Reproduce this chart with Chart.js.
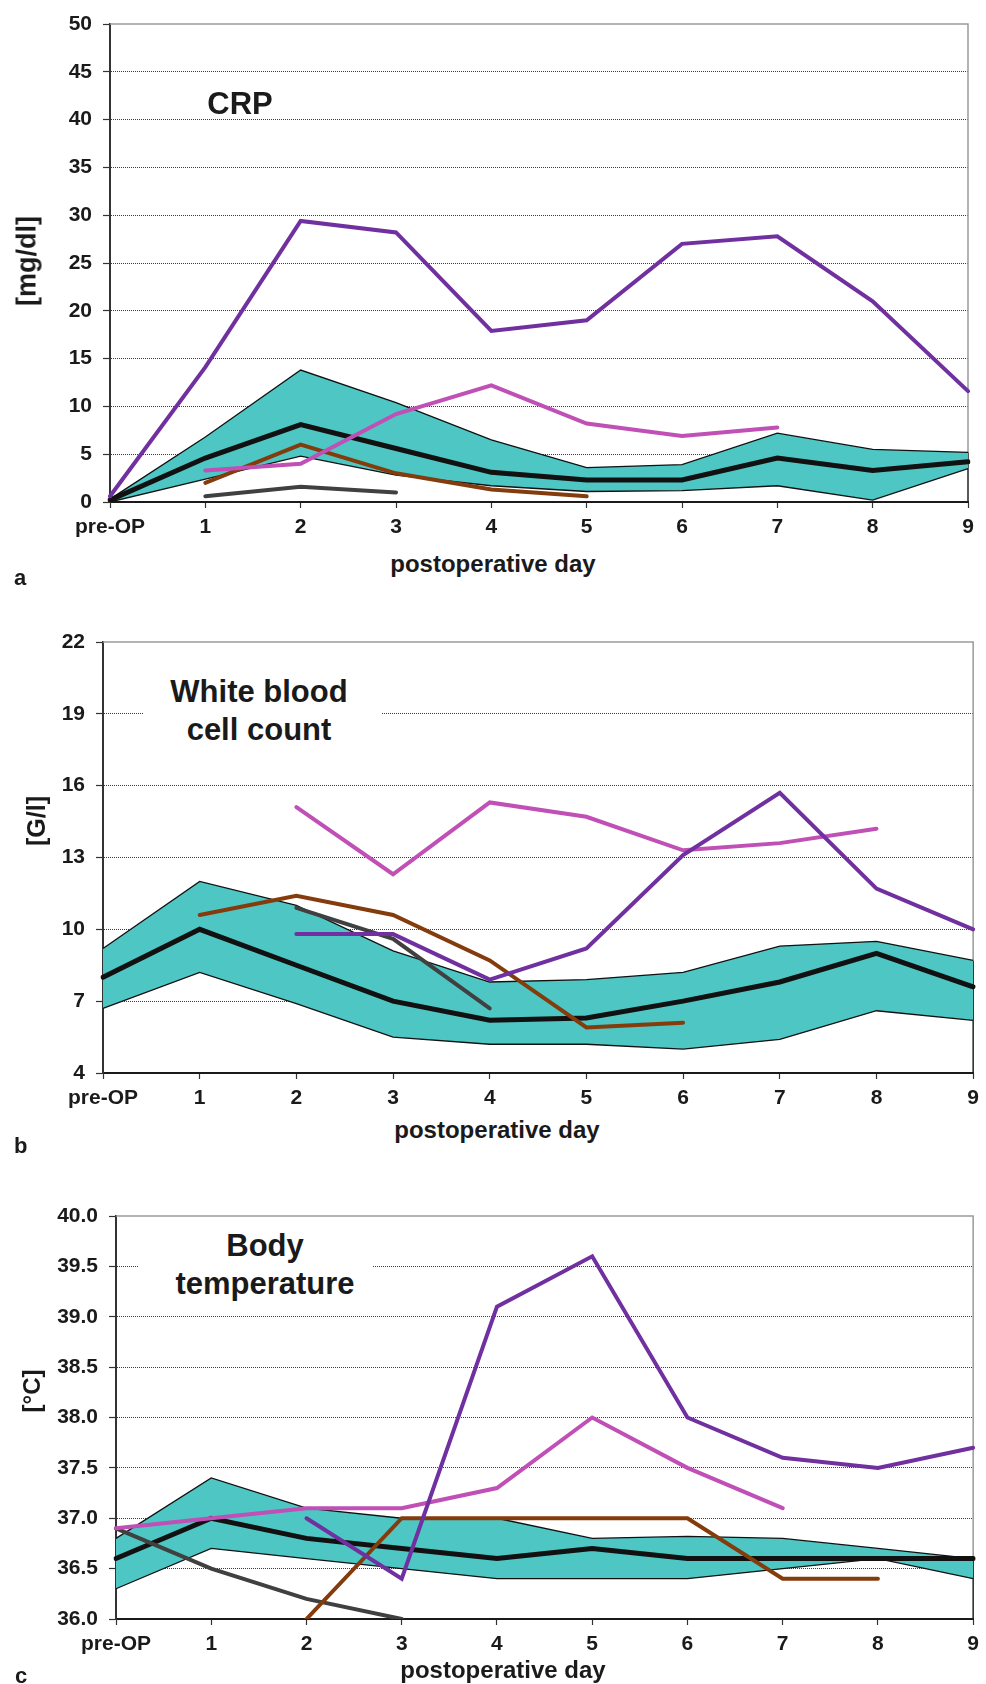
<!DOCTYPE html>
<html>
<head>
<meta charset="utf-8">
<script src="https://cdn.jsdelivr.net/npm/chart.js@4.4.1/dist/chart.umd.min.js"></script>
<style>
    body { margin: 0; background: #fff; }
    #page {
        position: relative; width: 986px; height: 1684px; overflow: hidden;
        font-family: "Liberation Sans", Arial, Helvetica, sans-serif;
        font-weight: bold; color: #1a1a1a;
    }
    canvas { position: absolute; left: 0; }
    .ytitle {
        position: absolute; white-space: nowrap;
        transform: translate(-50%, -50%) rotate(-90deg);
    }
    .xtitle {
        position: absolute; font-size: 24px; line-height: 24px; white-space: nowrap;
        transform: translateX(-50%);
    }
    .letter { position: absolute; font-size: 22px; line-height: 22px; }
    .inner {
        position: absolute; font-size: 31px; text-align: center;
        background: #fff; box-sizing: border-box; white-space: nowrap;
    }
</style>
</head>
<body>
<div id="page">
    <canvas id="crpChart" width="986" height="540" style="top:0px"></canvas>
    <canvas id="wbcChart" width="986" height="510" style="top:600px"></canvas>
    <canvas id="tempChart" width="986" height="514" style="top:1170px"></canvas>

    <div class="inner" style="left:140px; top:85px; width:200px; line-height:38px; background:none;">CRP</div>
    <div class="inner" style="left:143px; top:673px; width:239px; line-height:37.5px; padding-right:7px;">White blood<br>cell count</div>
    <div class="inner" style="left:138px; top:1227px; width:235px; line-height:38.3px; padding-left:19px;">Body<br>temperature</div>

    <div class="ytitle" style="left:27px; top:261px; font-size:27px; line-height:27px;">[mg/dl]</div>
    <div class="ytitle" style="left:36px; top:821px; font-size:25px; line-height:25px;">[G/l]</div>
    <div class="ytitle" style="left:32px; top:1391px; font-size:24px; line-height:24px;">[°C]</div>

    <div class="xtitle" style="left:493px; top:552px;">postoperative day</div>
    <div class="xtitle" style="left:497px; top:1118px;">postoperative day</div>
    <div class="xtitle" style="left:503px; top:1658px;">postoperative day</div>

    <div class="letter" style="left:14px; top:567px;">a</div>
    <div class="letter" style="left:14px; top:1135px;">b</div>
    <div class="letter" style="left:15px; top:1665px;">c</div>
</div>

<script>
/* ===============================
   DATA
   =============================== */
const days = ["pre-OP", "1", "2", "3", "4", "5", "6", "7", "8", "9"];

// CRP [mg/dl]
const crpTicks   = [0, 5, 10, 15, 20, 25, 30, 35, 40, 45, 50];
const crpLower   = [0, 2.4, 4.8, 2.8, 1.7, 1.1, 1.2, 1.7, 0.2, 3.5];
const crpUpper   = [0.3, 6.8, 13.8, 10.4, 6.5, 3.6, 3.9, 7.2, 5.5, 5.2];
const crpMedian  = [0.2, 4.6, 8.1, 5.6, 3.1, 2.3, 2.3, 4.6, 3.3, 4.2];
const crpPurple  = [0.6, 14.1, 29.4, 28.2, 17.9, 19.0, 27.0, 27.8, 21.0, 11.6];
const crpMagenta = [null, 3.3, 4.0, 9.2, 12.2, 8.2, 6.9, 7.8, null, null];
const crpBrown   = [null, 2.0, 6.0, 3.0, 1.3, 0.6, null, null, null, null];
const crpGray    = [null, 0.6, 1.6, 1.0, null, null, null, null, null, null];

// White blood cell count [G/l]
const wbcTicks   = [4, 7, 10, 13, 16, 19, 22];
const wbcLower   = [6.7, 8.2, 6.9, 5.5, 5.2, 5.2, 5.0, 5.4, 6.6, 6.2];
const wbcUpper   = [9.2, 12.0, 11.0, 9.1, 7.8, 7.9, 8.2, 9.3, 9.5, 8.7];
const wbcMedian  = [8.0, 10.0, 8.5, 7.0, 6.2, 6.3, 7.0, 7.8, 9.0, 7.6];
const wbcPurple  = [null, null, 9.8, 9.8, 7.9, 9.2, 13.1, 15.7, 11.7, 10.0];
const wbcMagenta = [null, null, 15.1, 12.3, 15.3, 14.7, 13.3, 13.6, 14.2, null];
const wbcBrown   = [null, 10.6, 11.4, 10.6, 8.7, 5.9, 6.1, null, null, null];
const wbcGray    = [null, null, 10.9, 9.6, 6.7, null, null, null, null, null];

// Body temperature [°C]
const tempTicks   = [36.0, 36.5, 37.0, 37.5, 38.0, 38.5, 39.0, 39.5, 40.0];
const tempLower   = [36.3, 36.7, 36.6, 36.5, 36.4, 36.4, 36.4, 36.5, 36.6, 36.4];
const tempUpper   = [36.8, 37.4, 37.1, 37.0, 37.0, 36.8, 36.82, 36.8, 36.7, 36.6];
const tempMedian  = [36.6, 37.0, 36.8, 36.7, 36.6, 36.7, 36.6, 36.6, 36.6, 36.6];
const tempPurple  = [null, null, 37.0, 36.4, 39.1, 39.6, 38.0, 37.6, 37.5, 37.7];
const tempMagenta = [36.9, 37.0, 37.1, 37.1, 37.3, 38.0, 37.5, 37.1, null, null];
const tempBrown   = [null, null, 36.0, 37.0, 37.0, 37.0, 37.0, 36.4, 36.4, null];
const tempGray    = [36.9, 36.5, 36.2, 36.0, null, null, null, null, null, null];

/* ===============================
   STYLE
   =============================== */
const FONT = '"Liberation Sans", Arial, Helvetica, sans-serif';
const TEAL = "#4dc6c4";
const PURPLE = "#7030a0";
const MAGENTA = "#c04fb6";
const BROWN = "#843c0c";
const GRAY = "#404040";

Chart.defaults.font.family = FONT;
Chart.defaults.color = "#1a1a1a";

// gray top/right frame of the plot area (right edge turns dark under the band)
const frameLines = {
    id: "frameLines",
    beforeDatasetsDraw(chart) {
        const { ctx, chartArea: a } = chart;
        const upper = chart.getDatasetMeta(1).data;
        const yEnd = upper[upper.length - 1].y;
        ctx.save();
        ctx.lineWidth = 1.5;
        ctx.strokeStyle = "#9a9a9a";
        ctx.beginPath();
        ctx.moveTo(a.left, a.top);
        ctx.lineTo(a.right, a.top);
        ctx.lineTo(a.right, yEnd);
        ctx.stroke();
        ctx.strokeStyle = "#222";
        ctx.beginPath();
        ctx.moveTo(a.right, yEnd);
        ctx.lineTo(a.right, a.bottom);
        ctx.stroke();
        ctx.restore();
    }
};

function line(data, color, width, order) {
    return {
        data: data,
        borderColor: color,
        borderWidth: width,
        borderCapStyle: "round",
        pointRadius: 0,
        tension: 0,
        spanGaps: false,
        fill: false,
        order: order
    };
}

function buildPanel(id, s, box) {
    const yMin = s.ticks[0];
    const yMax = s.ticks[s.ticks.length - 1];

    const bandLower = line(s.lower, "#111", 1.3, 10);
    const bandUpper = line(s.upper, "#111", 1.3, 10);
    bandUpper.fill = "-1";
    bandUpper.backgroundColor = TEAL;
    bandUpper.borderCapStyle = "butt";
    bandLower.borderCapStyle = "butt";

    new Chart(document.getElementById(id), {
        type: "line",
        data: {
            labels: days,
            datasets: [
                bandLower,
                bandUpper,
                line(s.median, "#111", 5, 5),
                line(s.purple, PURPLE, 4, 1),
                line(s.magenta, MAGENTA, 4, 1),
                line(s.brown, BROWN, 4, 1),
                line(s.gray, GRAY, 4, 1)
            ]
        },
        options: {
            responsive: false,
            animation: false,
            layout: { padding: { top: box.top, right: box.right, bottom: 0, left: 0 } },
            plugins: { legend: { display: false }, tooltip: { enabled: false } },
            scales: {
                x: {
                    type: "category",
                    offset: false,
                    afterFit: sc => { sc.height = box.xH; },
                    grid: {
                        drawOnChartArea: false,
                        drawTicks: true,
                        tickLength: 6,
                        tickColor: "#333",
                        tickWidth: 1.2
                    },
                    border: { display: true, color: "#1a1a1a", width: 2 },
                    ticks: {
                        padding: 7,
                        maxRotation: 0,
                        autoSkip: false,
                        font: { size: 21, weight: "bold" }
                    }
                },
                y: {
                    min: yMin,
                    max: yMax,
                    afterFit: sc => { sc.width = box.yW; },
                    afterBuildTicks: sc => { sc.ticks = s.ticks.map(v => ({ value: v })); },
                    grid: {
                        color: c => (c.tick && c.tick.value === yMax) ? "rgba(0,0,0,0)" : "#3a3a3a",
                        lineWidth: 1,
                        drawTicks: true,
                        tickLength: 7,
                        tickColor: "#333",
                        tickWidth: 1.2
                    },
                    border: { display: true, color: "#333", width: 2, dash: [1, 1] },
                    ticks: {
                        padding: 11,
                        font: { size: 21, weight: "bold" },
                        callback: v => s.fmt(v)
                    }
                }
            }
        },
        plugins: [frameLines]
    });
}

buildPanel("crpChart", {
    ticks: crpTicks, fmt: v => String(v),
    lower: crpLower, upper: crpUpper, median: crpMedian,
    purple: crpPurple, magenta: crpMagenta, brown: crpBrown, gray: crpGray
}, { top: 24, right: 18, yW: 110, xH: 38 });

buildPanel("wbcChart", {
    ticks: wbcTicks, fmt: v => String(v),
    lower: wbcLower, upper: wbcUpper, median: wbcMedian,
    purple: wbcPurple, magenta: wbcMagenta, brown: wbcBrown, gray: wbcGray
}, { top: 42, right: 12, yW: 103, xH: 37 });

buildPanel("tempChart", {
    ticks: tempTicks, fmt: v => Number(v).toFixed(1),
    lower: tempLower, upper: tempUpper, median: tempMedian,
    purple: tempPurple, magenta: tempMagenta, brown: tempBrown, gray: tempGray
}, { top: 46, right: 6, yW: 116, xH: 65 });
</script>
</body>
</html>
